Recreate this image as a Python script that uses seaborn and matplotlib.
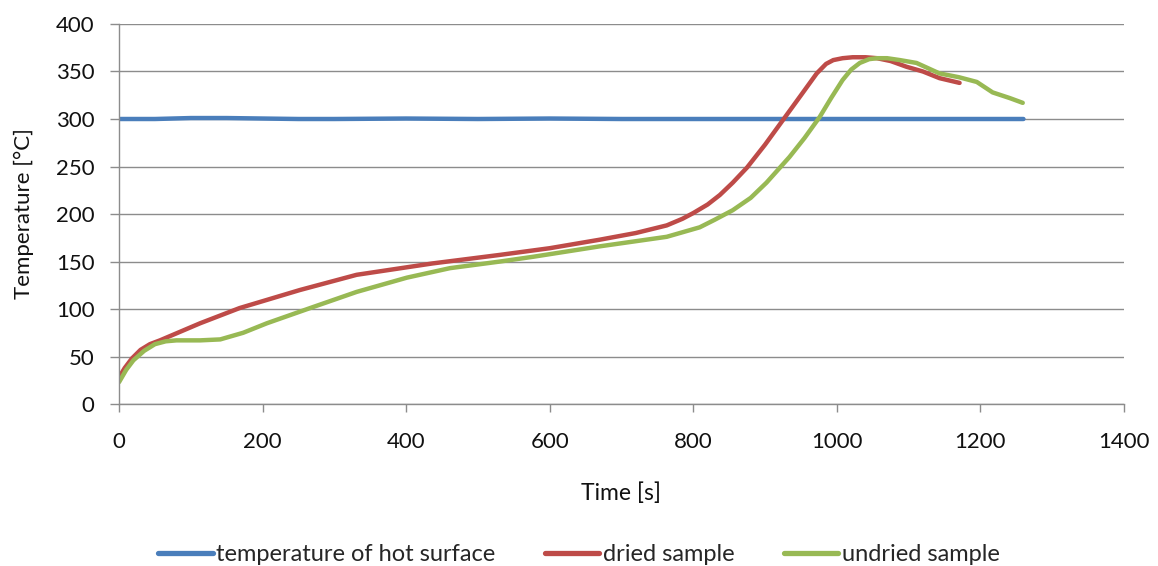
import numpy as np
import pandas as pd
import matplotlib
matplotlib.use("Agg")
import matplotlib.pyplot as plt
import seaborn as sns

# --- data ---
hot_t = [0, 50, 100, 150, 200, 250, 300, 400, 500, 600, 700, 800, 900, 1000, 1100, 1200, 1260]
hot_T = [300, 300, 301, 301, 300.5, 300, 300, 300.5, 300, 300.5, 300, 300, 300, 300, 300, 300, 300]

dried_t = [0, 8, 18, 30, 43, 57, 85, 113, 168, 252, 331, 437, 531, 600, 670, 720, 763, 785,
           800, 820, 837, 855, 875, 900, 925, 950, 972, 985, 995, 1008, 1022, 1040, 1056,
           1075, 1097, 1120, 1143, 1171]
dried_T = [28, 38, 48, 57, 63, 67, 76, 85, 101, 120, 136, 148, 157, 164, 173, 180, 188, 195,
           201, 210, 220, 233, 249, 273, 299, 325, 348, 358, 362, 364, 365, 365, 364,
           361, 355, 350, 343, 338]

undried_t = [0, 10, 20, 35, 50, 65, 80, 113, 141, 173, 206, 270, 331, 401, 461, 531, 577, 670,
             763, 809, 830, 855, 880, 902, 934, 955, 976, 992, 1008, 1020, 1032, 1045, 1056,
             1070, 1088, 1111, 1143, 1170, 1195, 1217, 1241, 1259]
undried_T = [23, 36, 46, 56, 63, 66, 67, 67, 68, 75, 85, 102, 118, 133, 143, 150, 155, 166,
             176, 186, 194, 204, 217, 233, 260, 280, 302, 322, 341, 352, 359, 363, 364,
             364, 362, 359, 348, 344, 339, 328, 322, 317]

labels = ["temperature of hot surface", "dried sample", "undried sample"]
colors = ["#4A7EBB", "#BE4B48", "#98B954"]

df = pd.concat([
    pd.DataFrame({"t": hot_t, "T": hot_T, "series": labels[0]}),
    pd.DataFrame({"t": dried_t, "T": dried_T, "series": labels[1]}),
    pd.DataFrame({"t": undried_t, "T": undried_T, "series": labels[2]}),
])

sns.set_theme(style="white")
plt.rcParams["font.family"] = ["Lato", "DejaVu Sans"]

fig = plt.figure(figsize=(11.58, 5.66), dpi=100)
ax = fig.add_axes([0.1028, 0.2862, 0.8678, 0.6714])

sns.lineplot(data=df, x="t", y="T", hue="series", palette=dict(zip(labels, colors)),
             linewidth=3.2, ax=ax, sort=False, estimator=None, legend=True,
             solid_joinstyle="round", solid_capstyle="round")

ax.set_xlim(0, 1400)
ax.set_ylim(0, 400)
ax.set_xticks(range(0, 1401, 200))
ax.set_yticks(range(0, 401, 50))
ax.yaxis.grid(True, color="#8C8C8C", linewidth=1.0)
ax.xaxis.grid(False)
ax.set_axisbelow(True)
for s in ["top", "right"]:
    ax.spines[s].set_visible(False)
for s in ["left", "bottom"]:
    ax.spines[s].set_color("#8C8C8C")
    ax.spines[s].set_linewidth(1.0)
ax.tick_params(axis="both", which="major", direction="out", width=1.0,
               color="#8C8C8C", labelsize=16, labelcolor="#111111",
               left=True, bottom=True)
ax.tick_params(axis="x", length=6, pad=14)
ax.tick_params(axis="y", length=6.5, pad=11)
ax.set_xlabel("Time [s]", fontsize=16.5, labelpad=22, color="#111111")
ax.set_ylabel("Temperature [°C]", fontsize=16, labelpad=16, color="#111111")

handles, lbls = ax.get_legend_handles_labels()
ax.get_legend().remove()
fig.legend(handles, lbls, loc="center", bbox_to_anchor=(0.5, 0.02), ncol=3,
           frameon=False, fontsize=17, handlelength=2.3, handletextpad=0.15,
           columnspacing=2.1)
for h in fig.legends[0].get_lines():
    h.set_linewidth(3.8)

fig.savefig("out.png", dpi=100)
